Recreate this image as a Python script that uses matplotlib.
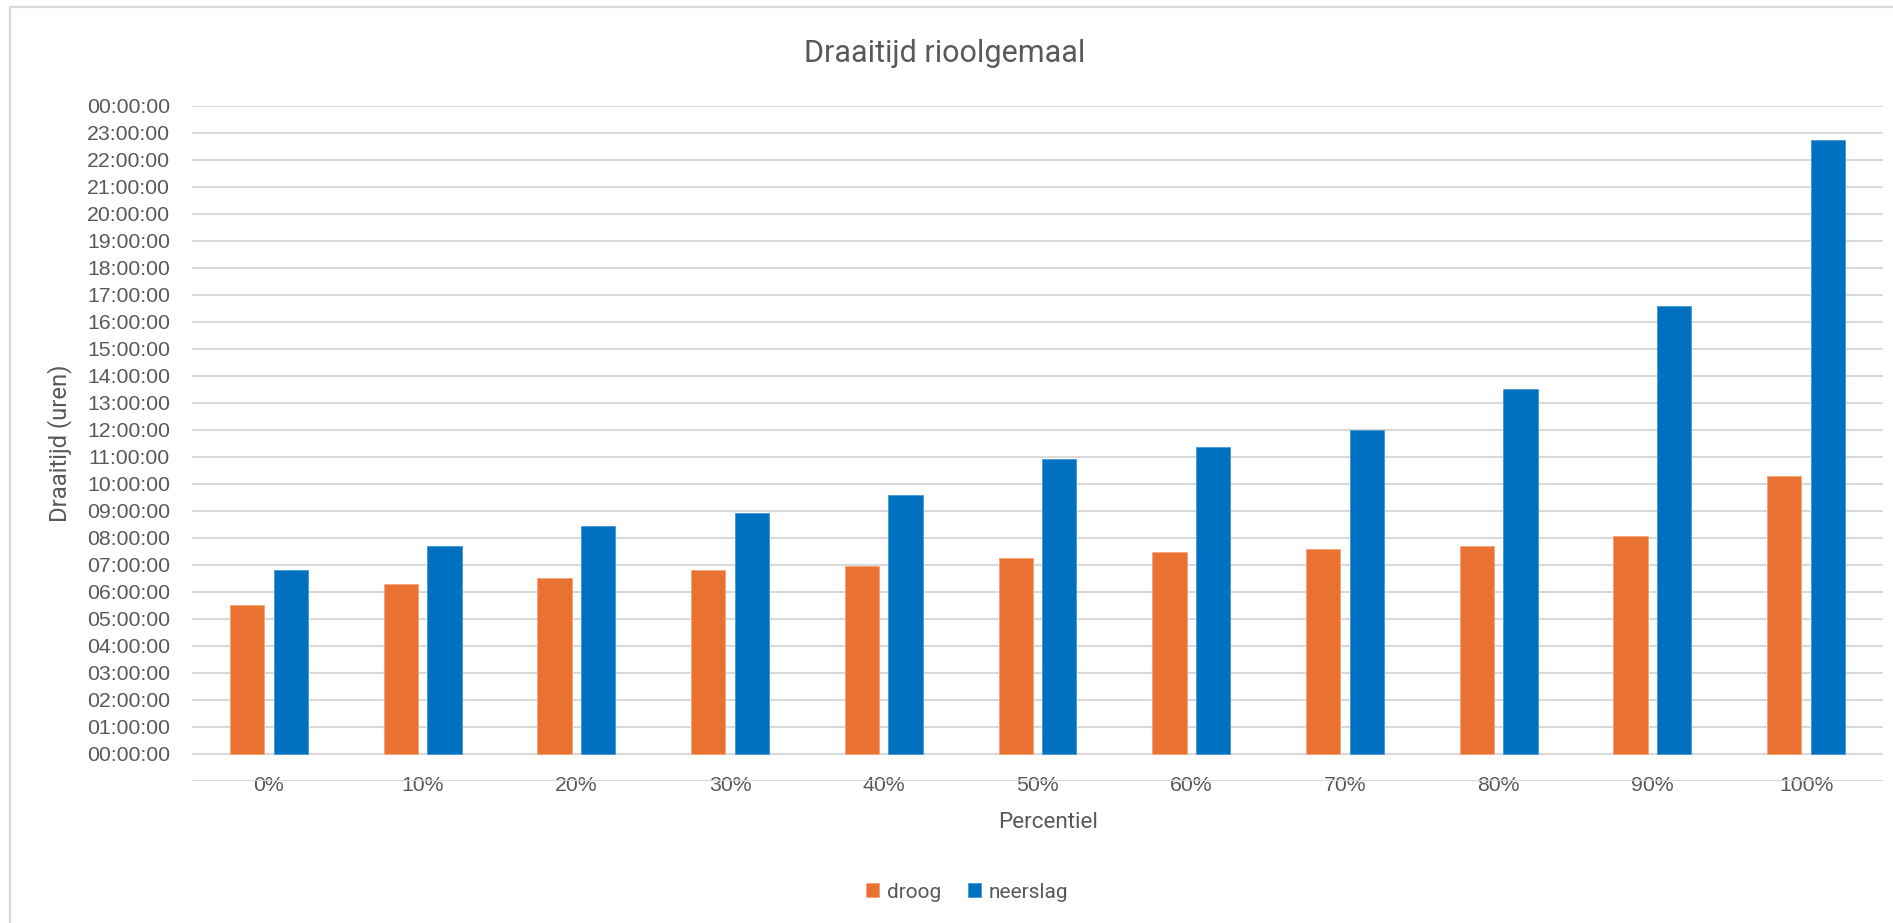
import matplotlib.pyplot as plt
from matplotlib.lines import Line2D
import numpy as np

# percentielen en draaitijd in uren
percentielen = ['0%', '10%', '20%', '30%', '40%', '50%', '60%', '70%', '80%', '90%', '100%']
droog = [5.52, 6.29, 6.52, 6.82, 6.95, 7.24, 7.48, 7.57, 7.71, 8.05, 10.30]
neerslag = [6.81, 7.71, 8.43, 8.90, 9.57, 10.90, 11.36, 12.00, 13.50, 16.59, 22.72]

ORANJE = '#E97132'
BLAUW = '#0070C0'
GRIJS = '#595959'
LIJN = '#D9D9D9'

W, H = 1893, 923
fig = plt.figure(figsize=(W / 100, H / 100), dpi=100)

# kader van de grafiek
fig.add_artist(Line2D([10 / W, 10 / W], [0, 1 - 7 / H], transform=fig.transFigure, color=LIJN, lw=1.6))
fig.add_artist(Line2D([10 / W, 1], [1 - 7 / H, 1 - 7 / H], transform=fig.transFigure, color=LIJN, lw=1.6))

links, rechts = 192 / W, 1883 / W
onder, boven = 1 - 780.7 / H, 1 - 105.7 / H
ax = fig.add_axes([links, onder, rechts - links, boven - onder])

x = np.arange(len(percentielen))
bw = 0.223
off = 0.142
ax.bar(x - off, droog, width=bw, color=ORANJE, edgecolor='#F3A77C', linewidth=0.7, label='droog', zorder=3)
ax.bar(x + off, neerslag, width=bw, color=BLAUW, edgecolor='#4D9BD6', linewidth=0.7, label='neerslag', zorder=3)

ax.set_xlim(-0.5, len(percentielen) - 0.5)
ax.set_ylim(-1, 24)

uren = list(range(-1, 25))
ax.set_yticks(uren)
ax.set_yticklabels(['' if u < 0 else f'{u % 24:02d}:00:00' for u in uren],
                   fontfamily='Liberation Sans', fontsize=15.3, color=GRIJS)
ax.set_xticks(x)
ax.set_xticklabels(percentielen, fontfamily='Liberation Sans', fontsize=15.3, color=GRIJS)
ax.tick_params(axis='y', length=0, pad=16)
ax.tick_params(axis='x', length=0, pad=-3.5)

ax.grid(axis='y', color=LIJN, linewidth=1.5, zorder=0)
for s in ax.spines.values():
    s.set_visible(False)

fig.text(945 / W, 1 - 54 / H, 'Draaitijd rioolgemaal', ha='center', va='center',
         fontfamily='Roboto', fontsize=22, color=GRIJS)
fig.text(1048 / W, 1 - 823 / H, 'Percentiel', ha='center', va='center',
         fontfamily='Roboto', fontsize=16.2, color=GRIJS)
fig.text(60 / W, 1 - 443 / H, 'Draaitijd (uren)', ha='center', va='center', rotation=90,
         fontfamily='Roboto', fontsize=17.2, color=GRIJS)

leg = fig.legend(loc='center', bbox_to_anchor=(967 / W, 1 - 892 / H), ncol=2, frameon=False,
                 handlelength=0.65, handleheight=0.65, handletextpad=0.35, columnspacing=1.3,
                 prop={'family': 'Roboto', 'size': 15})
for t in leg.get_texts():
    t.set_color(GRIJS)

fig.savefig('out.png', dpi=100, facecolor='white')
